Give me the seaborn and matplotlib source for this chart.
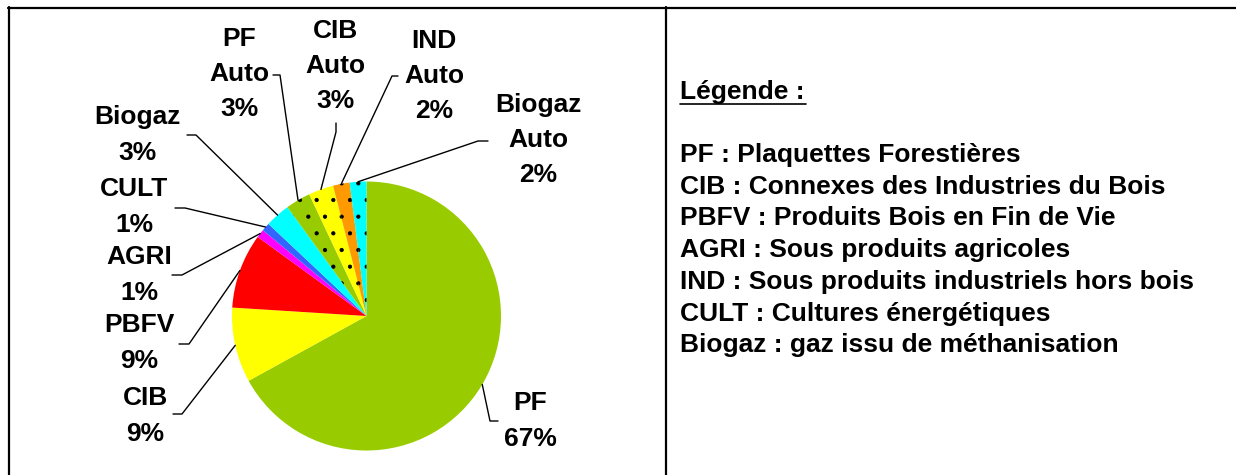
import matplotlib
matplotlib.use("Agg")
import numpy as np
import matplotlib.pyplot as plt
from matplotlib.lines import Line2D
import seaborn as sns

# pie data (clockwise from 12 o'clock)
sources = ["PF", "CIB", "PBFV", "AGRI", "CULT", "Biogaz",
           "PF\nAuto", "CIB\nAuto", "IND\nAuto", "Biogaz\nAuto"]
shares = [67, 9, 9, 1, 1, 3, 3, 3, 2, 2]

legend_title = "Légende :"
legend_lines = [
    "PF : Plaquettes Forestières",
    "CIB : Connexes des Industries du Bois",
    "PBFV : Produits Bois en Fin de Vie",
    "AGRI : Sous produits agricoles",
    "IND : Sous produits industriels hors bois",
    "CULT : Cultures énergétiques",
    "Biogaz : gaz issu de méthanisation",
]

colours = ["#99CC00", "#FFFF00", "#FF0000", "#FF00FF", "#3366FF", "#00FFFF",
           "#99CC00", "#FFFF00", "#FF9900", "#00FFFF"]
hatched = [False] * 6 + [True] * 4

# label placement in picture pixels: text centre, elbow, end of leader
label_pos = [(530, 421), (145, 416), (139, 343), (139, 275), (134, 207),
             (137, 135), (239, 74), (335, 66), (434, 76), (538, 140)]
elbows = [(490, 421), (182, 414), (189, 344), (182, 275), (185, 208),
          (196, 135), (280, 75), (336, 132), (392, 76), (478, 141)]
ends = [(498, 421), (173, 414), (179, 344), (172, 275), (175, 208),
        (187, 135), (273, 75), (336, 123), (398, 76), (488, 141)]

W, H = 1236, 475
sns.set_style("white")
plt.rcParams["font.family"] = ["Liberation Sans", "DejaVu Sans"]
plt.rcParams["font.weight"] = "bold"
plt.rcParams["text.color"] = "black"
plt.rcParams["hatch.linewidth"] = 0.6
FS = 19


def fxy(x, y):
    return x / W, 1 - y / H


fig = plt.figure(figsize=(W / 100, H / 100), dpi=100)

# pie
cx, cy, r = 366.5, 316, 134.5
ax = fig.add_axes([(cx - r) / W, 1 - (cy + r) / H, 2 * r / W, 2 * r / H])
wedges, _ = ax.pie(shares, colors=colours, startangle=90, counterclock=False,
                   wedgeprops=dict(linewidth=0))
ax.set_xlim(-1, 1)
ax.set_ylim(-1, 1)
ax.axis("off")

to_fig = ax.transData + fig.transFigure.inverted()
for w, name, v, h, tp, el, en in zip(wedges, sources, shares, hatched,
                                     label_pos, elbows, ends):
    if h:
        w.set_edgecolor("black")
        w.set_linewidth(0)
        w.set_hatch(".")
    mid = np.deg2rad((w.theta1 + w.theta2) / 2)
    p0 = to_fig.transform((np.cos(mid), np.sin(mid)))
    p1 = fxy(*el)
    p2 = fxy(*en)
    fig.add_artist(Line2D([p0[0], p1[0], p2[0]], [p0[1], p1[1], p2[1]],
                          color="black", lw=1.0, transform=fig.transFigure))
    fig.text(*fxy(*tp), f"{name}\n{v}%", ha="center", va="center",
             fontsize=FS, fontweight="bold", linespacing=1.6)

# legend panel
fig.text(*fxy(680, 92), legend_title, ha="left", va="center",
         fontsize=FS, fontweight="bold")
fig.add_artist(Line2D([680 / W, 806 / W], [1 - 104 / H, 1 - 104 / H],
                      color="black", lw=1.2, transform=fig.transFigure))
for i, line in enumerate(legend_lines):
    fig.text(*fxy(680, 155 + i * 31.7), line, ha="left", va="center",
             fontsize=FS, fontweight="bold")

# table borders
for xs, ys in [([8, W], [7.5, 7.5]), ([8.5, 8.5], [7, H]), ([666, 666], [7, H])]:
    fig.add_artist(Line2D([x / W for x in xs], [1 - y / H for y in ys],
                          color="black", lw=1.6, transform=fig.transFigure))

fig.savefig("out.png", dpi=100)
